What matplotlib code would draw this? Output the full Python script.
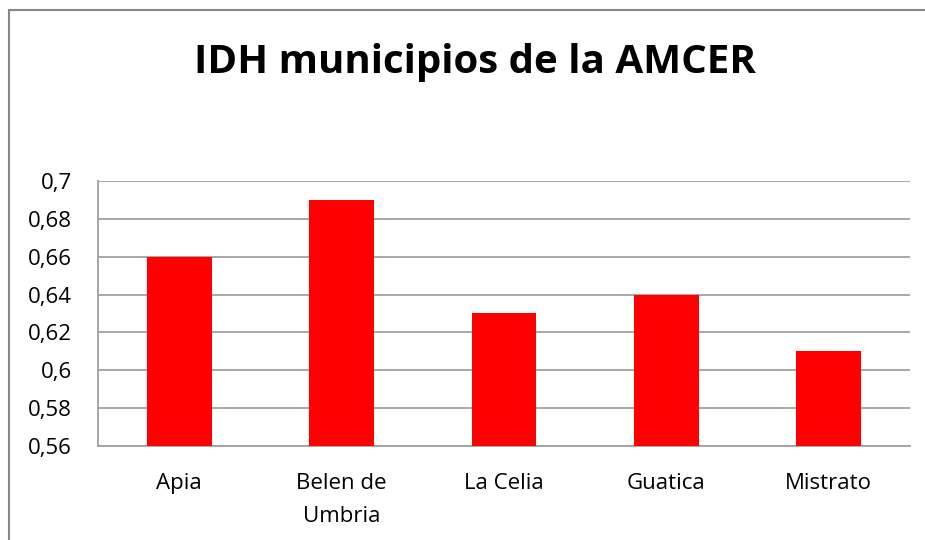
import matplotlib
matplotlib.use("Agg")
import matplotlib.pyplot as plt
from matplotlib.patches import Rectangle

categories = ["Apia", "Belen de\nUmbria", "La Celia", "Guatica", "Mistrato"]
values = [0.66, 0.69, 0.63, 0.64, 0.61]
yticks = [0.56, 0.58, 0.60, 0.62, 0.64, 0.66, 0.68, 0.70]
ytick_labels = ["0,56", "0,58", "0,6", "0,62", "0,64", "0,66", "0,68", "0,7"]
title = "IDH municipios de la AMCER"

plt.rcParams['font.family'] = ['Open Sans', 'DejaVu Sans']

W, H = 925, 540
fig = plt.figure(figsize=(W / 100, H / 100), dpi=100)

# outer chart border (cropped at right/bottom)
fig.patches.append(Rectangle((9 / W, -0.1), 1.2, 1 - 10 / H + 0.1, transform=fig.transFigure,
                             fill=False, edgecolor="#868686", linewidth=1.5, zorder=0))

ax = fig.add_axes([98 / W, 1 - 446 / H, (910 - 98) / W, (446 - 181) / H])
x = list(range(len(categories)))
ax.bar(x, [v - 0.56 for v in values], bottom=0.56, width=0.4, color="#ff0000", zorder=3)
ax.set_xlim(-0.5, len(categories) - 0.5)
ax.set_ylim(0.56, 0.70)
ax.set_yticks(yticks)
ax.set_yticklabels(ytick_labels, fontsize=16)
ax.set_xticks(x)
ax.set_xticklabels(categories, fontsize=16, linespacing=1.75, va="top")
ax.tick_params(axis="y", length=0, pad=18.7)
ax.tick_params(axis="x", length=0, pad=19.5)
ax.grid(axis="y", color="#a0a0a0", linewidth=1.3, zorder=1)
for s in ["top", "right"]:
    ax.spines[s].set_visible(False)
for s in ["left", "bottom"]:
    ax.spines[s].set_color("#a0a0a0")
    ax.spines[s].set_linewidth(1.3)

fig.text(0.5 * (192 + 757) / W, 1 - 63 / H, title, fontsize=29, fontweight="bold",
         ha="center", va="center")

fig.savefig("out.png", dpi=100)
